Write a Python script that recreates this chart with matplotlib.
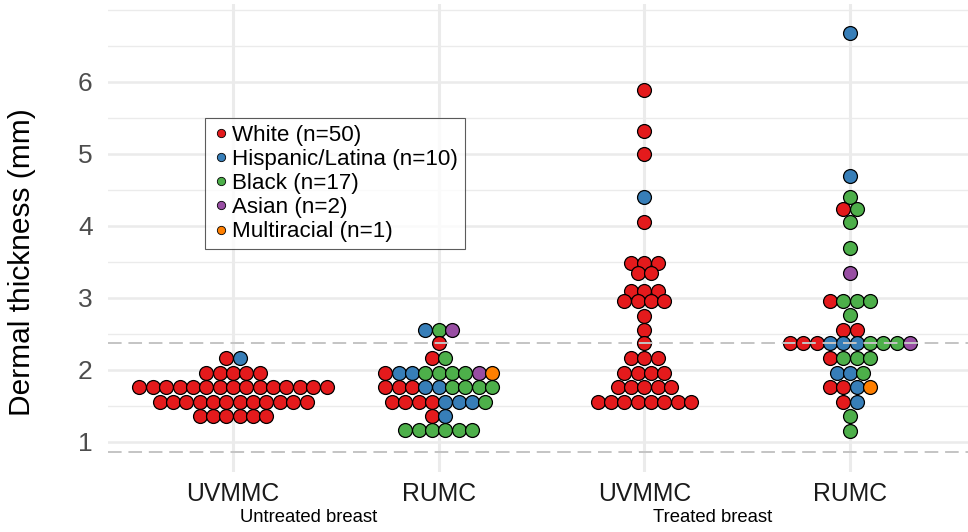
import matplotlib
matplotlib.use('Agg')
import matplotlib.pyplot as plt
from matplotlib.lines import Line2D

plt.rcParams['font.family'] = ['Liberation Sans', 'DejaVu Sans']

# ==============================================
# race groups (order inside each row of dots) and Set1 colours
race_codes = ['W', 'H', 'B', 'A', 'M']
race_labels = ['White (n=50)', 'Hispanic/Latina (n=10)', 'Black (n=17)',
               'Asian (n=2)', 'Multiracial (n=1)']
race_colors = ['#E41A1C', '#377EB8', '#4DAF4A', '#984EA3', '#FF7F00']

sites = ['UVMMC', 'RUMC', 'UVMMC', 'RUMC']
breast_groups = ['Untreated breast', 'Treated breast']
breast_group_x = [1.37, 3.33]

# reference lines (mm)
ref_lines = [2.37, 0.86]

# ==============================================
# dermal thickness (mm): one value per row, one race letter per patient

# UVMMC untreated
uv_unt_rows = [2.16, 1.96, 1.76, 1.56, 1.36]
uv_unt_race = ['WH', 'WWWWW', 'WWWWWWWWWWWWWWW', 'WWWWWWWWWWWW', 'WWWWWW']

# RUMC untreated
ru_unt_rows = [2.56, 2.37, 2.16, 1.96, 1.76, 1.56, 1.36, 1.16]
ru_unt_race = ['HBA', 'W', 'WB', 'WHHBBBBAM', 'WWWHHBBBB', 'WWWWHHHB', 'WH', 'BBBBBB']

# UVMMC treated
uv_trt_rows = [5.89, 5.31, 5.0, 4.40, 4.06, 3.49, 3.35, 3.10, 2.95, 2.75,
               2.56, 2.37, 2.16, 1.96, 1.76, 1.56]
uv_trt_race = ['W', 'W', 'W', 'H', 'W', 'WWW', 'WW', 'WWW', 'WWWW', 'W',
               'W', 'W', 'WWW', 'WWWW', 'WWWWW', 'WWWWWWWW']

# RUMC treated
ru_trt_rows = [6.68, 4.69, 4.40, 4.24, 4.06, 3.69, 3.35, 2.95, 2.76, 2.55,
               2.37, 2.16, 1.96, 1.76, 1.56, 1.36, 1.15]
ru_trt_race = ['H', 'H', 'B', 'WB', 'B', 'B', 'A', 'WBBB', 'B', 'WW',
               'WWWHHHBBBA', 'WBBB', 'HHB', 'WWHM', 'WH', 'B', 'B']

groups = [(uv_unt_rows, uv_unt_race), (ru_unt_rows, ru_unt_race),
          (uv_trt_rows, uv_trt_race), (ru_trt_rows, ru_trt_race)]

# ==============================================
# plotting routine

fig = plt.figure(figsize=(9.68, 5.32), dpi=100)
ax = fig.add_axes([108 / 968, 1 - 472 / 532, 860 / 968, 468 / 532])

dx = 0.065  # horizontal dot spacing (x units)

for g, (rows, race_rows) in enumerate(groups):
    xc = g + 1
    for val, codes in zip(rows, race_rows):
        codes = sorted(codes, key=race_codes.index)
        n = len(codes)
        for i, c in enumerate(codes):
            ax.scatter(xc + (i - (n - 1) / 2) * dx, val, s=100,
                       color=race_colors[race_codes.index(c)],
                       edgecolor='black', linewidth=0.9, zorder=3)

for yv in ref_lines:
    ax.axhline(yv, color='#c4c4c4', lw=1.4, dashes=(7, 3.5), zorder=4)

ax.set_xlim(0.392, 4.574)
ax.set_ylim(0.583, 7.08)

ax.set_xticks([1, 2, 3, 4])
ax.set_xticklabels(sites)
ax.set_yticks([1, 2, 3, 4, 5, 6])
ax.set_yticks([1.5, 2.5, 3.5, 4.5, 5.5, 6.5, 7.0], minor=True)

ax.grid(axis='x', which='major', color='#ebebeb', lw=2.2, zorder=0)
ax.grid(axis='y', which='major', color='#ebebeb', lw=1.8, zorder=0)
ax.grid(axis='y', which='minor', color='#ebebeb', lw=1.0, zorder=0)
ax.set_axisbelow(True)

for sp in ax.spines.values():
    sp.set_visible(False)

ax.tick_params(axis='both', which='both', length=0)
ax.tick_params(axis='x', labelsize=17.8, labelcolor='#1a1a1a', pad=7)
ax.tick_params(axis='y', labelsize=19, labelcolor='#4d4d4d', pad=11)

fig.text(22 / 968, 1 - 262 / 532, 'Dermal thickness (mm)', rotation=90,
         ha='center', va='center', fontsize=21.5, color='black')

for lab, xg in zip(breast_groups, breast_group_x):
    ax.text(xg, -0.098, lab, transform=ax.get_xaxis_transform(),
            ha='center', va='center', fontsize=13.3, color='black')

handles = [Line2D([], [], marker='o', linestyle='none', markersize=6,
                  markerfacecolor=c, markeredgecolor='black', markeredgewidth=0.6)
           for c in race_colors]
leg = ax.legend(handles, race_labels, loc='upper left',
                bbox_to_anchor=(0.113, 0.756), fontsize=16.1, frameon=True,
                fancybox=False, labelspacing=0.14, handletextpad=0.1,
                handlelength=0.8, borderpad=0.3, borderaxespad=0)
leg.get_frame().set_edgecolor('#333333')
leg.get_frame().set_linewidth(0.8)
leg.set_zorder(5)

plt.savefig('out.png', dpi=100)
